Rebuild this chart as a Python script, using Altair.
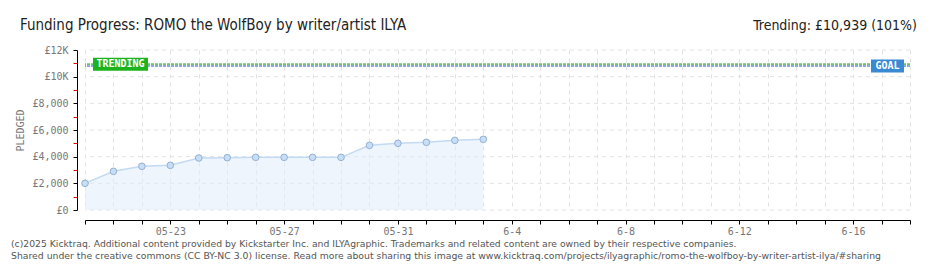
import altair as alt
import pandas as pd

# ---------------- data ----------------
dates = ["2025-05-20", "2025-05-21", "2025-05-22", "2025-05-23", "2025-05-24",
         "2025-05-25", "2025-05-26", "2025-05-27", "2025-05-28", "2025-05-29",
         "2025-05-30", "2025-05-31", "2025-06-01", "2025-06-02", "2025-06-03"]
pledged = [2000, 2900, 3275, 3350, 3900, 3925, 3950, 3950, 3950, 3950,
           4850, 5000, 5075, 5225, 5300]

trending_value = 10939
goal_value = 10800

y_ticks = [0, 1000, 2000, 3000, 4000, 5000, 6000, 7000, 8000, 9000, 10000, 11000, 12000]
y_tick_labels = ["£0", "", "£2,000", "", "£4,000", "", "£6,000", "", "£8,000", "", "£10K", "", "£12K"]
y_grid = [0, 2000, 4000, 6000, 8000, 10000, 12000]

x_start = "2025-05-20"
x_end = "2025-06-18"
x_label_dates = ["2025-05-23", "2025-05-27", "2025-05-31", "2025-06-04",
                 "2025-06-08", "2025-06-12", "2025-06-16"]
x_label_texts = ["05-23", "05-27", "05-31", "6-4", "6-8", "6-12", "6-16"]

title_text = "Funding Progress: ROMO the WolfBoy by writer/artist ILYA"
trend_text = "Trending: £10,939 (101%)"
footer_lines = [
    "(c)2025 Kicktraq. Additional content provided by Kickstarter Inc. and ILYAgraphic. Trademarks and related content are owned by their respective companies.",
    "Shared under the creative commons (CC BY-NC 3.0) license. Read more about sharing this image at www.kicktraq.com/projects/ilyagraphic/romo-the-wolfboy-by-writer-artist-ilya/#sharing",
]

# ---------------- helpers ----------------
def ms(d):
    return int(pd.Timestamp(d, tz="UTC").value // 10**6)

all_days = pd.date_range(x_start, x_end, freq="D", tz="UTC")
x_tick_values = [int(t.value // 10**6) for t in all_days]

x_expr = "''"
for d, t in reversed(list(zip(x_label_dates, x_label_texts))):
    x_expr = f"utcFormat(datum.value, '%Y-%m-%d') === '{d}' ? '{t}' : ({x_expr})"

y_expr = "''"
for v, t in reversed(list(zip(y_ticks, y_tick_labels))):
    y_expr = f"datum.value === {v} ? '{t}' : ({y_expr})"

df = pd.DataFrame({"date": dates, "pledged": pledged})
lines_df = pd.DataFrame({"name": ["Trending", "Goal"], "value": [trending_value, goal_value]})
grid_df = pd.DataFrame({"value": y_grid})

MONO = "DejaVu Sans Mono"
COND = "DejaVu Sans Condensed, Liberation Sans Narrow, sans-serif"
W, H = 825, 160
ODD = "datum.value % 2000 !== 0"
GRID_COLOR = "#e2e2e2"

x_scale = alt.Scale(type="utc", domain=[ms(x_start), ms(x_end)])
y_scale = alt.Scale(domain=[0, 12000])

x_axis = alt.Axis(
    values=x_tick_values, labelExpr=x_expr, title=None, offset=10,
    grid=True, gridDash=[4, 4], gridColor=GRID_COLOR,
    domainColor="#000000", tickColor="#000000", tickSize=4,
    labelFont=MONO, labelFontSize=10, labelColor="#777777", labelPadding=2,
    labelOverlap=False, labelFlush=False,
)
y_axis = alt.Axis(
    values=y_ticks, labelExpr=y_expr, title="PLEDGED", offset=8,
    grid=False,
    domainColor="#000000",
    tickColor={"condition": {"test": ODD, "value": "#ee0000"}, "value": "#000000"},
    tickSize=4, labelOverlap=False,
    labelFont=MONO, labelFontSize=10, labelColor="#777777", labelPadding=5,
    titleFont=MONO, titleFontSize=10, titleColor="#777777", titleFontWeight="normal",
    titlePadding=6,
)

X = alt.X("date:T", scale=x_scale, axis=x_axis)
Y = alt.Y("pledged:Q", scale=y_scale, axis=y_axis)
YV = alt.Y("value:Q", scale=y_scale, axis=y_axis)

grid = alt.Chart(grid_df).mark_rule(color=GRID_COLOR, strokeWidth=1, strokeDash=[4, 4]).encode(y=YV)

base = alt.Chart(df)

area = base.mark_area(color="#ddebfb", opacity=0.5).encode(x=X, y=Y)
line = base.mark_line(color="#c2daf3", strokeWidth=1.5).encode(x=X, y=Y)
points = base.mark_point(filled=True, fill="#c6def7", stroke="#94b0cf",
                         strokeWidth=1, size=44, opacity=1, shape="circle").encode(x=X, y=Y)

rules = alt.Chart(lines_df).mark_rule(strokeWidth=2, strokeDash=[3, 1]).encode(
    y=YV,
    color=alt.Color("name:N", scale=alt.Scale(domain=["Trending", "Goal"],
                                              range=["#6cc46c", "#88ace0"]), legend=None),
)

trend_df = lines_df[lines_df.name == "Trending"]
goal_df = lines_df[lines_df.name == "Goal"]

def badge(data, cx, w, h, fill, label):
    path = f"M-1,{-h / w:.4f} L1,{-h / w:.4f} L1,{h / w:.4f} L-1,{h / w:.4f} Z"
    b = alt.Chart(data).mark_point(shape=path, size=w * w, filled=True,
                                   fill=fill, opacity=1, strokeWidth=0).encode(
        x=alt.value(cx), y=YV)
    t = alt.Chart(data).mark_text(text=label, color="white", font=MONO, fontSize=10,
                                  fontWeight="bold", align="center", baseline="middle").encode(
        x=alt.value(cx), y=YV)
    return [b, t]

trend_badge = badge(trend_df, 35.5, 55, 13, "#1db31d", "TRENDING")
goal_badge = badge(goal_df, 802.5, 33, 13, "#3b88d3", "GOAL")

hdr = alt.Data(values=[{}])
title = alt.Chart(hdr).mark_text(
    text=title_text, font=COND, fontSize=15, color="#222222",
    align="left", baseline="alphabetic"
).encode(x=alt.value(-65), y=alt.value(-20))
trend = alt.Chart(hdr).mark_text(
    text=trend_text, font=COND, fontSize=14, color="#222222",
    align="right", baseline="alphabetic"
).encode(x=alt.value(832), y=alt.value(-20))
foot1 = alt.Chart(hdr).mark_text(
    text=footer_lines[0], font="DejaVu Sans", fontSize=9.25, color="#555555",
    align="left", baseline="middle"
).encode(x=alt.value(-74), y=alt.value(194))
foot2 = alt.Chart(hdr).mark_text(
    text=footer_lines[1], font="DejaVu Sans", fontSize=9.3, color="#555555",
    align="left", baseline="middle"
).encode(x=alt.value(-74), y=alt.value(206))

chart = alt.layer(
    grid, area, line, points, rules, *trend_badge, *goal_badge, title, trend, foot1, foot2
).properties(
    width=W, height=H,
    autosize=alt.AutoSizeParams(type="none"),
    padding={"left": 77, "top": 42, "right": 22, "bottom": 52},
    background="white",
).configure_view(stroke=None)

chart.save("out.html", embed_options={"renderer": "svg", "actions": False})
